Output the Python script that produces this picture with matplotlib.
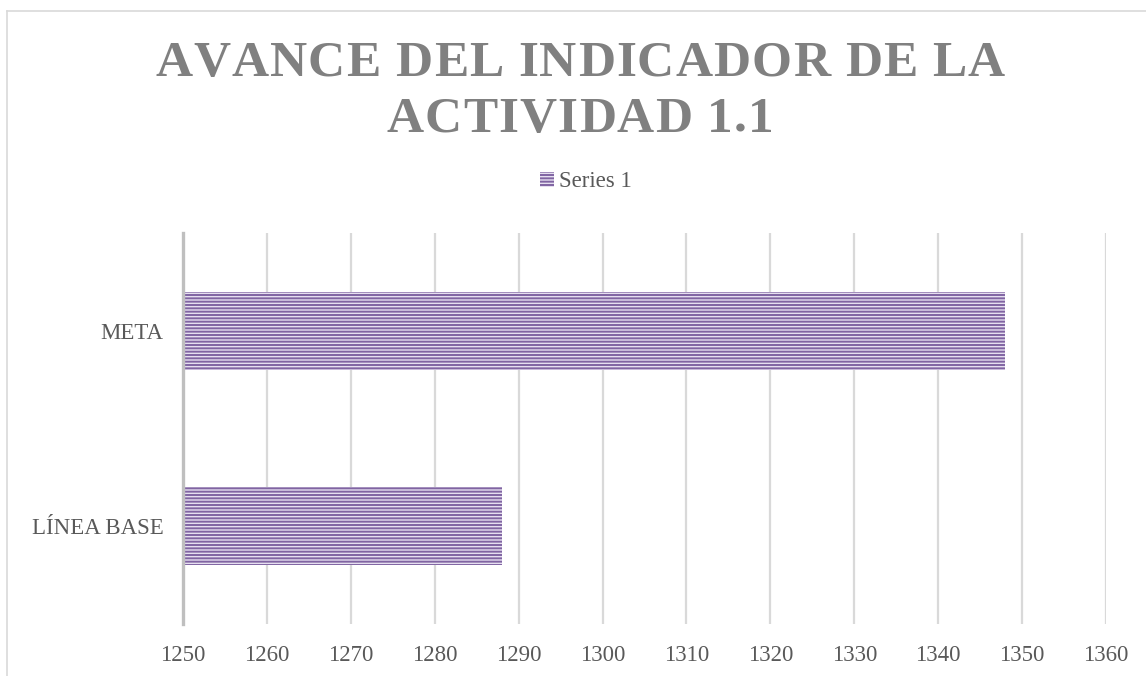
import matplotlib
matplotlib.use('Agg')
import matplotlib.pyplot as plt
from matplotlib import font_manager as fm
from matplotlib.font_manager import FontProperties
from matplotlib.lines import Line2D

# ---- data ----
categories = ['LÍNEA BASE', 'META']
values = [1288, 1348]
series_name = 'Series 1'
x_min, x_max = 1250, 1360
xticks = [1250, 1260, 1270, 1280, 1290, 1300, 1310, 1320, 1330, 1340, 1350, 1360]
title_lines = ['AVANCE DEL INDICADOR DE LA', 'ACTIVIDAD 1.1']

W, H = 1146, 676


def find_font(bold):
    for name in ['Liberation Serif', 'Tinos', 'DejaVu Serif']:
        cands = [f for f in fm.fontManager.ttflist
                 if f.name == name and f.style == 'normal'
                 and ((f.weight in (700, 'bold')) if bold else (f.weight in (400, 'normal', 'regular')))]
        if cands:
            return cands[0].fname
    return None


REG = find_font(False)
BOLD = find_font(True)


def fp(size, bold=False):
    path = BOLD if bold else REG
    if path:
        return FontProperties(fname=path, size=size)
    return FontProperties(family='serif', size=size, weight='bold' if bold else 'normal')


plt.rcParams['hatch.color'] = '#8064A2'
plt.rcParams['hatch.linewidth'] = 1.4

TXT = '#595959'
fig = plt.figure(figsize=(W / 100, H / 100), dpi=100)
fig.patch.set_facecolor('white')

ax = fig.add_axes([183 / W, 1 - 624 / H, (1106 - 183) / W, 391 / H])
ypos = list(range(len(categories)))
bars = ax.barh(ypos, [v - x_min for v in values], left=x_min, height=0.40,
               color='#E6DFF0', edgecolor='#8064A2', linewidth=0,
               hatch='-----', label=series_name, zorder=2)
ax.set_xlim(x_min, x_max)
ax.set_ylim(-0.5, len(categories) - 0.5)
ax.set_xticks(xticks)
ax.set_xticklabels([str(t) for t in xticks], fontproperties=fp(16.5), color=TXT)
ax.set_yticks(ypos)
ax.set_yticklabels(categories, fontproperties=fp(16.5), color=TXT)
ax.xaxis.grid(True, color='#D9D9D9', linewidth=1.6)
ax.set_axisbelow(True)
for s in ['top', 'right', 'bottom']:
    ax.spines[s].set_visible(False)
ax.spines['left'].set_color('#BFBFBF')
ax.spines['left'].set_linewidth(2.4)
ax.spines['left'].set_zorder(3)
ax.tick_params(axis='x', length=0, pad=15)
ax.tick_params(axis='y', length=0, pad=14)

leg = ax.legend(loc='center', bbox_to_anchor=(586 / W, 1 - 182 / H),
                bbox_transform=fig.transFigure, frameon=False,
                handlelength=0.6, handleheight=0.6, handletextpad=0.2,
                prop=fp(16.5), labelcolor=TXT)

# chart area border (left and top visible)
fig.add_artist(Line2D([7 / W, 7 / W], [0, 1 - 11 / H], color='#D9D9D9', lw=1.2))
fig.add_artist(Line2D([7 / W, 1], [1 - 11 / H, 1 - 11 / H], color='#D9D9D9', lw=1.2))

# ---- letter-spaced title ----
renderer = fig.canvas.get_renderer()
tprop = fp(37, bold=True)
size_px = 37 * 100 / 72


def char_widths(s):
    ws = []
    for ch in s:
        if ch == ' ':
            ws.append(0.25 * size_px)
        else:
            w, h, d = renderer.get_text_width_height_descent(ch, tprop, ismath=False)
            ws.append(w)
    return ws


w1 = char_widths(title_lines[0])
tracking = (850 - sum(w1)) / (len(title_lines[0]) - 1)
baselines = [76, 132]
center_x = 580
for line, base in zip(title_lines, baselines):
    ws = char_widths(line)
    total = sum(ws) + tracking * (len(line) - 1)
    x = center_x - total / 2
    for ch, w in zip(line, ws):
        if ch != ' ':
            fig.text(x / W, 1 - base / H, ch, fontproperties=tprop, color='#808080',
                     ha='left', va='baseline')
        x += w + tracking

fig.savefig('out.png', dpi=100)
